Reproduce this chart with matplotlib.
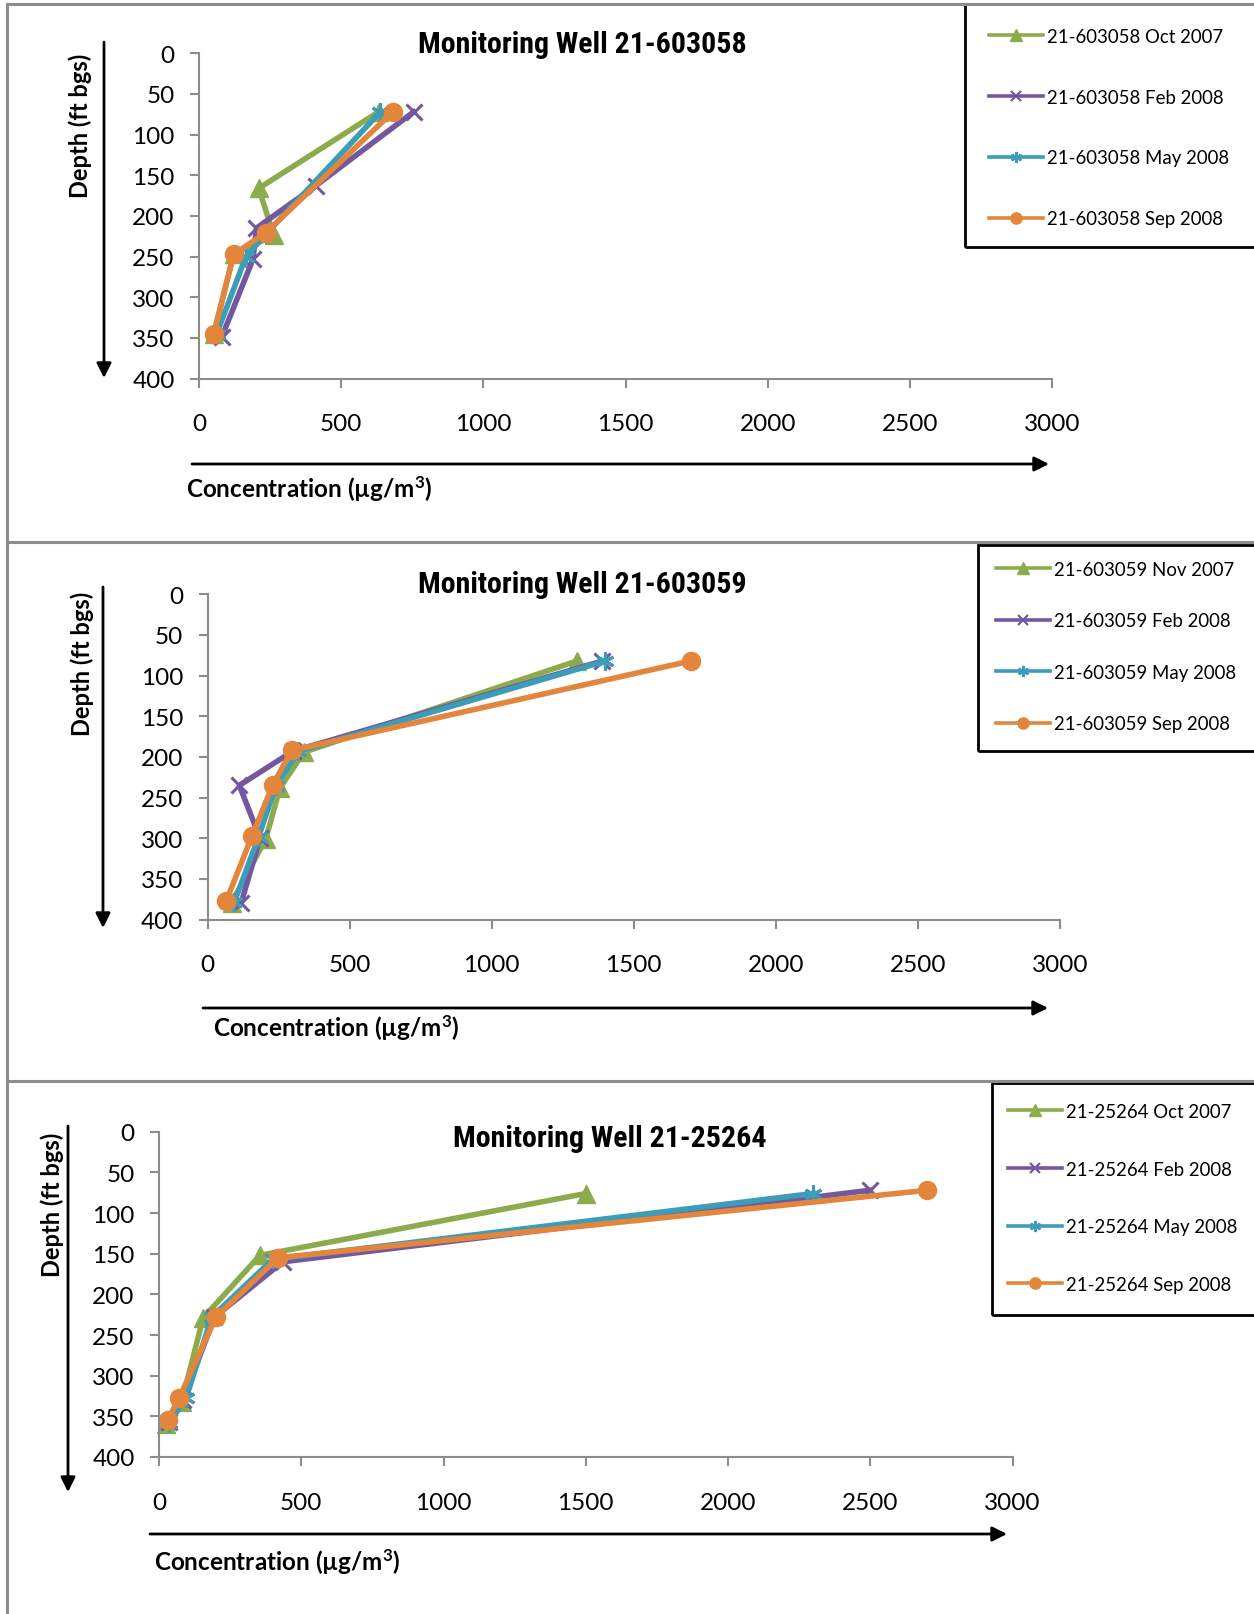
import matplotlib
matplotlib.use("Agg")
import matplotlib.pyplot as plt
from matplotlib.lines import Line2D
from matplotlib.patches import Rectangle, FancyArrowPatch
from matplotlib import font_manager

plt.rcParams['font.family'] = ['Lato', 'DejaVu Sans']
plt.rcParams['mathtext.fontset'] = 'custom'
plt.rcParams['mathtext.rm'] = 'Lato:bold'
plt.rcParams['mathtext.it'] = 'Lato:bold'
plt.rcParams['mathtext.bf'] = 'Lato:bold'

# ---------------- data ----------------
wells = ['21-603058', '21-603059', '21-25264']
dates_w1 = ['Oct 2007', 'Feb 2008', 'May 2008', 'Sep 2008']
dates_w2 = ['Nov 2007', 'Feb 2008', 'May 2008', 'Sep 2008']
dates_w3 = ['Oct 2007', 'Feb 2008', 'May 2008', 'Sep 2008']

# Well 21-603058
w1_s1_conc = [632, 210, 263, 122, 52]
w1_s1_depth = [72, 166, 224, 247, 345]
w1_s2_conc = [755, 410, 202, 190, 80]
w1_s2_depth = [72, 163, 215, 253, 349]
w1_s3_conc = [638, 236, 165, 62]
w1_s3_depth = [72, 222, 250, 345]
w1_s4_conc = [682, 234, 122, 52]
w1_s4_depth = [72, 221, 247, 345]

# Well 21-603059
w2_s1_conc = [1300, 340, 255, 205, 85]
w2_s1_depth = [82, 194, 238, 301, 379]
w2_s2_conc = [1390, 300, 112, 185, 118]
w2_s2_depth = [82, 193, 235, 300, 380]
w2_s3_conc = [1400, 320, 240, 180, 95]
w2_s3_depth = [82, 193, 236, 298, 378]
w2_s4_conc = [1700, 296, 229, 157, 66]
w2_s4_depth = [82, 192, 235, 297, 377]

# Well 21-25264
w3_s1_conc = [1500, 355, 155, 80, 25]
w3_s1_depth = [76, 152, 229, 332, 360]
w3_s2_conc = [2500, 435, 195, 85, 35]
w3_s2_depth = [72, 160, 228, 330, 357]
w3_s3_conc = [2300, 400, 185, 95, 35]
w3_s3_depth = [76, 157, 228, 328, 358]
w3_s4_conc = [2700, 418, 200, 70, 30]
w3_s4_depth = [72, 155, 228, 328, 355]

x_ticks = [0, 500, 1000, 1500, 2000, 2500, 3000]
y_ticks = [0, 50, 100, 150, 200, 250, 300, 350, 400]

# ---------------- styles ----------------
colors = ['#8CAB4C', '#7358A0', '#3C9DB8', '#E3863C']
markers = ['^', 'x', (6, 2, 0), 'o']
msizes = [13, 11, 13, 13]

# narrow bold font for the titles, if one is installed
_avail = {f.name for f in font_manager.fontManager.ttflist}
title_family = [f for f in ['Liberation Sans Narrow', 'Roboto Condensed', 'DejaVu Sans']
                if f in _avail] or ['DejaVu Sans']
title_size = 21.5 if title_family[0] != 'DejaVu Sans' else 18.5

W, H = 1254, 1615
fig = plt.figure(figsize=(W / 100, H / 100), dpi=100)


def fx(px):
    return px / W


def fy(py):
    return 1 - py / H


panels = [
    dict(well=wells[0], dates=dates_w1,
         series=[(w1_s1_conc, w1_s1_depth), (w1_s2_conc, w1_s2_depth),
                 (w1_s3_conc, w1_s3_depth), (w1_s4_conc, w1_s4_depth)],
         ax=(199, 1052, 54.3, 379.6), title=(582, 45),
         ylab=(80, 126), vline=(104, 43, 379), hline=(465, 192, 1049),
         xlab=(186, 489), leg_box=(965, 5, 248), leg_anchor=(989, 29),
         leg_spacing=2.35),
    dict(well=wells[1], dates=dates_w2,
         series=[(w2_s1_conc, w2_s1_depth), (w2_s2_conc, w2_s2_depth),
                 (w2_s3_conc, w2_s3_depth), (w2_s4_conc, w2_s4_depth)],
         ax=(207.5, 1060, 595.3, 920.6), title=(582, 585),
         ylab=(82, 664), vline=(103, 588, 929), hline=(1009, 203, 1048),
         xlab=(213, 1028), leg_box=(978, 546, 752), leg_anchor=(996, 562),
         leg_spacing=1.85),
    dict(well=wells[2], dates=dates_w3,
         series=[(w3_s1_conc, w3_s1_depth), (w3_s2_conc, w3_s2_depth),
                 (w3_s3_conc, w3_s3_depth), (w3_s4_conc, w3_s4_depth)],
         ax=(159, 1012.5, 1132.7, 1458), title=(610, 1139),
         ylab=(52, 1205), vline=(68, 1127, 1493), hline=(1535, 150, 1007),
         xlab=(154, 1562), leg_box=(991.5, 1084, 1316), leg_anchor=(1008, 1104),
         leg_spacing=2.18),
]

gray = '#8C8C8C'

for p in panels:
    x0, x1, ytop, ybot = p['ax']
    ax = fig.add_axes([fx(x0), fy(ybot), (x1 - x0) / W, (ybot - ytop) / H])
    ax.set_facecolor('none')
    handles = []
    for (conc, depth), c, m, ms, d in zip(p['series'], colors, markers, msizes, p['dates']):
        mew = 2.2 if m in ('x',) or isinstance(m, tuple) else 1
        ax.plot(conc, depth, color=c, lw=4.0, marker=m, ms=ms, mew=mew,
                mec=c, mfc=c, clip_on=False, solid_joinstyle='round')
        handles.append(Line2D([], [], color=c, lw=2.6, marker=m,
                              ms=ms * 0.62, mew=1.6 if mew > 1 else 1, mec=c, mfc=c,
                              label=f"{p['well']} {d}"))
    ax.set_xlim(0, 3000)
    ax.set_ylim(400, 0)
    ax.set_xticks(x_ticks)
    ax.set_yticks(y_ticks)
    for s in ('top', 'right'):
        ax.spines[s].set_visible(False)
    for s in ('left', 'bottom'):
        ax.spines[s].set_color(gray)
        ax.spines[s].set_linewidth(1.5)
    ax.tick_params(axis='both', colors=gray, width=1.5, length=6.5,
                   labelcolor='black', labelsize=17.5)
    ax.tick_params(axis='x', pad=18.5)
    ax.tick_params(axis='y', pad=11)

    # title
    tx, ty = p['title']
    fig.text(fx(tx), fy(ty), f"Monitoring Well {p['well']}", ha='center', va='center',
             fontsize=title_size, fontweight='bold', fontstretch='condensed',
             family=title_family)
    # depth label
    lx, ly = p['ylab']
    fig.text(fx(lx), fy(ly), 'Depth (ft bgs)', rotation=90, ha='center', va='center',
             fontsize=17, fontweight='bold')
    # concentration label
    cx, cy = p['xlab']
    fig.text(fx(cx), fy(cy), 'Concentration (\u00b5g/m$^{3}$)', ha='left', va='center',
             fontsize=17.5, fontweight='bold')
    # arrows
    vx, vy0, vy1 = p['vline']
    fig.add_artist(FancyArrowPatch((fx(vx), fy(vy0)), (fx(vx), fy(vy1)),
                                   transform=fig.transFigure, arrowstyle='-|>',
                                   mutation_scale=22, lw=2, color='black',
                                   shrinkA=0, shrinkB=0))
    hy, hx0, hx1 = p['hline']
    fig.add_artist(FancyArrowPatch((fx(hx0), fy(hy)), (fx(hx1), fy(hy)),
                                   transform=fig.transFigure, arrowstyle='-|>',
                                   mutation_scale=22, lw=2, color='black',
                                   shrinkA=0, shrinkB=0))
    # legend box
    bx, bt, bb = p['leg_box']
    fig.add_artist(Rectangle((fx(bx), fy(bb)), fx(W + 10) - fx(bx), fy(bt) - fy(bb),
                             transform=fig.transFigure, fill=False, ec='black', lw=2))
    axl, ayl = p['leg_anchor']
    fig.legend(handles=handles, loc='upper left', bbox_to_anchor=(fx(axl), fy(ayl)),
               frameon=False, fontsize=13.4, handlelength=2.9, handletextpad=0.2,
               labelspacing=p['leg_spacing'], borderpad=0, borderaxespad=0,
               markerscale=1.0)

# panel borders
for y in (5, 543, 1082):
    fig.add_artist(Line2D([fx(6.7), 1.0], [fy(y), fy(y)], transform=fig.transFigure,
                          color=gray, lw=2.2))
fig.add_artist(Line2D([fx(6.7), fx(6.7)], [fy(5), 0], transform=fig.transFigure,
                      color=gray, lw=2.2))

fig.savefig('out.png', dpi=100)
